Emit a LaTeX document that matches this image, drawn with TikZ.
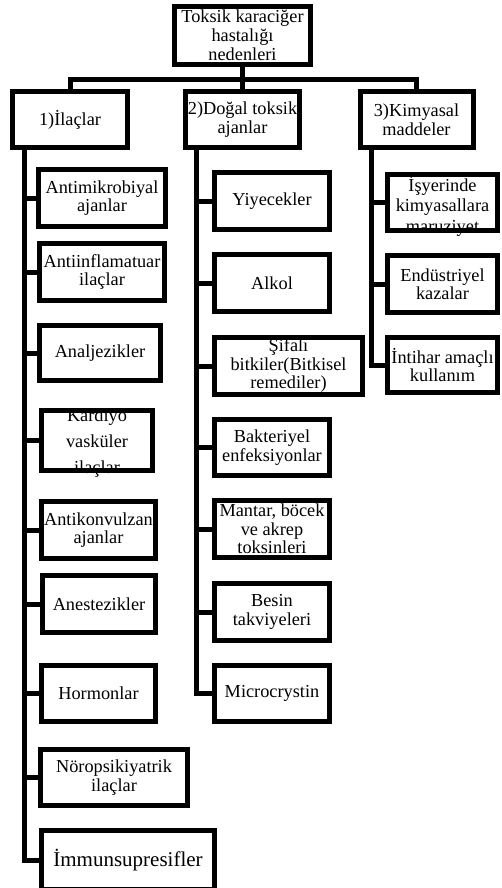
\documentclass[tikz,border=0pt]{standalone}
\usepackage{fontspec}
\setmainfont{Liberation Serif}
\begin{document}
\begin{tikzpicture}[x=1pt,y=-1pt,
  lw/.style={line width=5pt},
  box/.style={draw, line width=5pt, inner sep=0pt, outer sep=0pt, align=center,
    font=\fontsize{18.3}{18.5}\selectfont, anchor=center},
  sz/.style 2 args={minimum width=#1pt, minimum height=#2pt},
  txt/.style={inner sep=0pt, align=center, anchor=center}]
\clip (0,0) rectangle (501,888);
\useasboundingbox (0,0) rectangle (501,888);
\fill[white] (0,0) rectangle (501,888);

% root and level 1
\node[box, sz={136}{58}, font=\fontsize{18.3}{19}\selectfont] (root) at (242.5,35.5) {Toksik karaciğer\\hastalığı\\nedenleri};
\node[box, sz={115}{56}] (L1) at (70,119.5) {1)İlaçlar};
\node[box, sz={114}{56}] (L2) at (242.5,119.5) {2)Doğal toksik\\ajanlar};
\node[box, sz={113}{56}] (L3) at (416.5,119.5) {3)Kimyasal\\maddeler};

% left column
\node[box, sz={127}{57}] (a1) at (102,198) {Antimikrobiyal\\ajanlar};
\node[box, sz={125}{57}] (a2) at (102,272) {Antiinflamatuar\\ilaçlar};
\node[box, sz={121}{55}] (a3) at (100,353) {Analjezikler};
\node[box, sz={111}{60}] (a4) at (97,440.5) {};
\node[txt, font=\fontsize{18.3}{26}\selectfont] (a4t) at (97,443) {Kardiyo\\vasküler\\ilaçlar};
\node[box, sz={114}{57}] (a5) at (98.5,530) {Antikonvulzan\\ajanlar};
\node[box, sz={113}{57}] (a6) at (99,604) {Anestezikler};
\node[box, sz={114}{56}] (a7) at (98.5,693.5) {Hormonlar};
\node[box, sz={147}{56}] (a8) at (114,777.5) {Nöropsikiyatrik\\ilaçlar};
\node[box, sz={173}{59}, font=\fontsize{21}{23}\selectfont] (a9) at (128,860) {İmmunsupresifler};

% middle column
\node[box, sz={115}{57}] (b1) at (272,201) {Yiyecekler};
\node[box, sz={115}{57}] (b2) at (272,283) {Alkol};
\node[box, sz={148}{57}] (b3) at (288.5,366) {Şifalı\\bitkiler(Bitkisel\\remediler)};
\node[box, sz={115}{56}] (b4) at (272,447.5) {Bakteriyel\\enfeksiyonlar};
\node[box, sz={115}{57}] (b5) at (272,529) {Mantar, böcek\\ve akrep\\toksinleri};
\node[box, sz={115}{57}] (b6) at (272,612) {Besin\\takviyeleri};
\node[box, sz={115}{56}] (b7) at (272,693.5) {Microcrystin};

% right column
\node[box, sz={110}{56}] (c1) at (442.5,202.5) {};
\node[txt, font=\fontsize{18.3}{20.5}\selectfont] (c1t) at (442.5,206) {İşyerinde\\kimyasallara\\maruziyet};
\node[box, sz={110}{57}] (c2) at (442.5,284) {Endüstriyel\\kazalar};
\node[box, sz={110}{55}] (c3) at (442.5,365) {İntihar amaçlı\\kullanım};

% borders drawn over overflowing text
\foreach \n in {a4,c1,b3,b5} \draw[lw] (\n.north west) rectangle (\n.south east);

% top connectors
\coordinate (bar) at (242.5,80);
\draw[lw] (root.south) -- (bar);
\draw[lw] (L1.north) -- (L1.north |- bar) -- (L3.north |- bar) -- (L3.north);
\draw[lw] (L2.north) -- (L2.north |- bar);

% trunks
\coordinate (t1) at (24,0);
\coordinate (t2) at (196,0);
\coordinate (t3) at (371,0);
\draw[lw] (L1.south -| t1) |- (a9.west);
\foreach \n in {a1,a2,a3,a4,a5,a6,a7,a8} \draw[lw] (\n.west -| t1) -- (\n.west);
\draw[lw] (L2.south -| t2) |- (b7.west);
\foreach \n in {b1,b2,b3,b4,b5,b6} \draw[lw] (\n.west -| t2) -- (\n.west);
\draw[lw] (L3.south -| t3) |- (c3.west);
\foreach \n in {c1,c2} \draw[lw] (\n.west -| t3) -- (\n.west);
\end{tikzpicture}
\end{document}
